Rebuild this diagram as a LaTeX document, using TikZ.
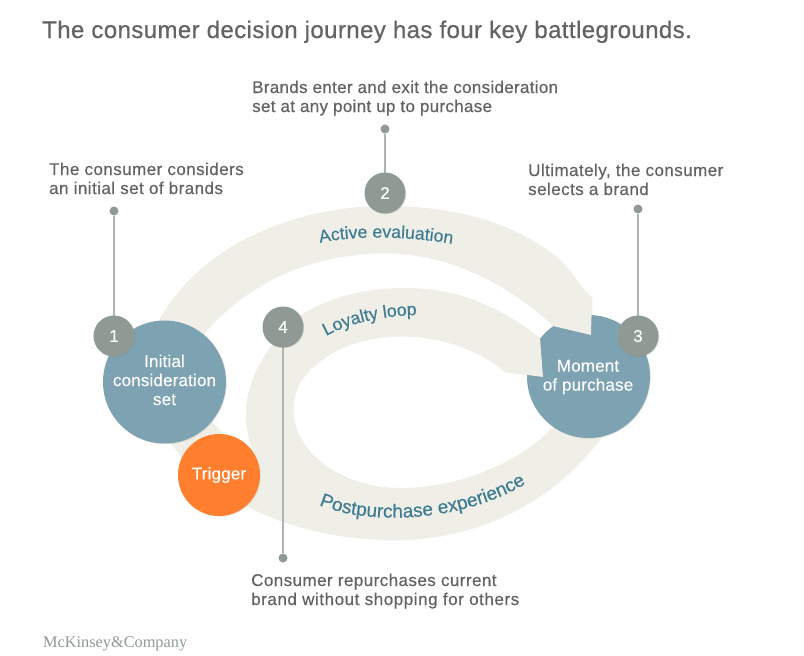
\documentclass[tikz,border=0pt]{standalone}
\usepackage{fontspec}
\setmainfont{Liberation Sans}
\newfontfamily\logofam{Liberation Serif}
\newfontfamily\bodyfam[LetterSpace=1.8,FakeBold=0.45]{Liberation Sans}
\newfontfamily\bodyfamb[LetterSpace=2.6,FakeBold=0.45]{Liberation Sans}
\newfontfamily\bodyfamc[LetterSpace=3.3,FakeBold=0.45]{Liberation Sans}
\newfontfamily\curvefam[FakeBold=0.4]{Liberation Sans}
\newfontfamily\whitefam[LetterSpace=1,FakeBold=0.3]{Liberation Sans}
\newfontfamily\titlefam[LetterSpace=1.7,FakeBold=0.6]{Liberation Sans}
\usetikzlibrary{decorations.text,shadows}
\definecolor{bandcol}{HTML}{EFEFE8}
\definecolor{bluecol}{HTML}{7DA2B1}
\definecolor{graycol}{HTML}{8F9A94}
\definecolor{orangecol}{HTML}{FF7F2F}
\definecolor{txtcol}{HTML}{636363}
\definecolor{curvecol}{HTML}{3F7C93}
\definecolor{leadcol}{HTML}{AEB4B1}
\definecolor{logocol}{HTML}{8F9A94}
\newcommand{\bodyf}{\bodyfam\fontsize{17}{19}\selectfont}
\newcommand{\bodyg}{\bodyfamb\fontsize{17}{19}\selectfont}
\newcommand{\bodyh}{\bodyfamc\fontsize{17}{19}\selectfont}
\newcommand{\curvef}{\curvefam\fontsize{17.6}{19}\selectfont\color{curvecol}}
\newcommand{\curveg}{\curvefam\fontsize{19}{19}\selectfont\color{curvecol}}
\newcommand{\whitef}{\whitefam\fontsize{17}{19}\selectfont}
\tikzset{
  x=1pt,y=-1pt,
  band/.style={fill=bandcol,draw=none,drop shadow={shadow xshift=.7pt,shadow yshift=-.7pt,opacity=.08}},
  bigcirc/.style={circle,fill=bluecol,minimum size=123pt,inner sep=0pt,drop shadow={shadow xshift=.8pt,shadow yshift=-.8pt,opacity=.18}},
  whitetext/.style={anchor=center,text=white,align=center,font=\whitef},
  trigcirc/.style={circle,fill=orangecol,minimum size=82pt,inner sep=0pt,text=white,font=\whitef,drop shadow={shadow xshift=.8pt,shadow yshift=-.8pt,opacity=.15}},
  numcirc/.style={circle,fill=graycol,minimum size=41pt,inner sep=0pt,text=white,font=\whitef,drop shadow={shadow xshift=.8pt,shadow yshift=-.8pt,opacity=.22}},
  dotnode/.style={circle,fill=graycol,minimum size=9pt,inner sep=0pt},
  leader/.style={draw=leadcol,line width=1.3pt},
  lbl/.style={anchor=base west,inner sep=0pt,text=txtcol,font=\bodyf,align=left},
  lblb/.style={lbl,font=\bodyg},
  lblc/.style={lbl,font=\bodyh},
  ontext/.style={decorate,decoration={text along path,text align=left}},
}
\begin{document}
\begin{tikzpicture}
\useasboundingbox (0,0) rectangle (804,656);
\fill[white] (0,0) rectangle (804,656);
% lower band (postpurchase), running up into the loyalty loop
\path[band] (225,490) -- (230,495) .. controls (270,525) and (340,540) .. (393,540)
  .. controls (480,540) and (560,500) .. (610,425) -- (580,400) -- (553,427)
  .. controls (525,458) and (465,488) .. (400,488)
  .. controls (340,488) and (293,450) .. (293,410)
  .. controls (293,385) and (305,372) .. (324,358)
  -- (340,320) -- (303,315)
  .. controls (275,333) and (246,375) .. (246,413)
  .. controls (246,425) and (248,438) .. (252,450) -- cycle;
% Moment of purchase circle
\node[bigcirc] (moment) at (588.5,376.5) {};
% upper band (active evaluation)
\path[band] (225,497) .. controls (180,465) and (150,420) .. (148,385)
  -- (150,340)
  .. controls (185,250) and (290,206) .. (385,206)
  .. controls (470,206) and (525,230) .. (560,260)
  .. controls (570,270) and (578,282) .. (584,290)
  -- (592,298) -- (591,335) -- (553,326)
  .. controls (510,285) and (450,253) .. (385,253)
  .. controls (315,253) and (250,280) .. (205,332)
  .. controls (190,360) and (195,395) .. (213,423)
  -- (240,450) -- cycle;
% loyalty loop band
\path[band] (290,322) .. controls (325,298) and (360,288) .. (407,288)
  .. controls (460,288) and (505,310) .. (540,338)
  -- (543,377) -- (505,372)
  .. controls (480,350) and (440,336) .. (400,336)
  .. controls (375,336) and (345,343) .. (324,358)
  -- cycle;
\node[whitetext] (momenttext) at (588,377) {Moment\\of purchase};
\node[bigcirc] (initial) at (164.5,382) {};
\node[whitetext] (initialtext) at (164.5,380) {Initial\\consideration\\set};
\node[trigcirc] (trigger) at (219,475) {Trigger};
% leaders
\node[dotnode] (d1) at (114,211) {};
\node[dotnode] (d2) at (385,129) {};
\node[dotnode] (d3) at (638,209) {};
\node[dotnode] (d4) at (283,558) {};
\coordinate (c1) at (114,336);
\coordinate (c2) at (385,193);
\coordinate (c3) at (638,336);
\coordinate (c4) at (283,327);
\draw[leader] (d1) -- (c1);
\draw[leader] (d2) -- (c2);
\draw[leader] (d3) -- (c3);
\draw[leader] (d4) -- (c4);
\node[numcirc] (n1) at (c1) {1};
\node[numcirc] (n2) at (c2) {2};
\node[numcirc] (n3) at (c3) {3};
\node[numcirc] (n4) at (c4) {4};
% curved labels
\path[ontext,decoration={text={|\curvef|Active evaluation}}] (320,243) .. controls (345,237) and (400,234) .. (458,245);
\path[ontext,decoration={text={|\curvef|Loyalty loop}}] (326,336) .. controls (354,321) and (389,315) .. (426,315);
\path[ontext,decoration={text={|\curveg|Postpurchase experience}}] (319,505) .. controls (365,525) and (465,525) .. (535,478);
% text
\node[anchor=base west,inner sep=0pt,text=txtcol,font=\titlefam\fontsize{24}{26}\selectfont] (title) at (42,38) {The consumer decision journey has four key battlegrounds.};
\node[lbl] (t2a) at (252,93) {Brands enter and exit the consideration};
\node[lbl] (t2b) at (252,112) {set at any point up to purchase};
\node[lblb] (t1a) at (49,175) {The consumer considers};
\node[lblb] (t1b) at (49,194) {an initial set of brands};
\node[lblb] (t3a) at (528,176) {Ultimately, the consumer};
\node[lblb] (t3b) at (528,195) {selects a brand};
\node[lblb] (t4a) at (251,586) {Consumer repurchases current};
\node[lblc] (t4b) at (251,605) {brand without shopping for others};
\node[anchor=base west,inner sep=0pt,text=logocol,font=\logofam\fontsize{16.3}{19}\selectfont] (logo) at (43,647) {McKinsey\&Company};
\end{tikzpicture}
\end{document}
